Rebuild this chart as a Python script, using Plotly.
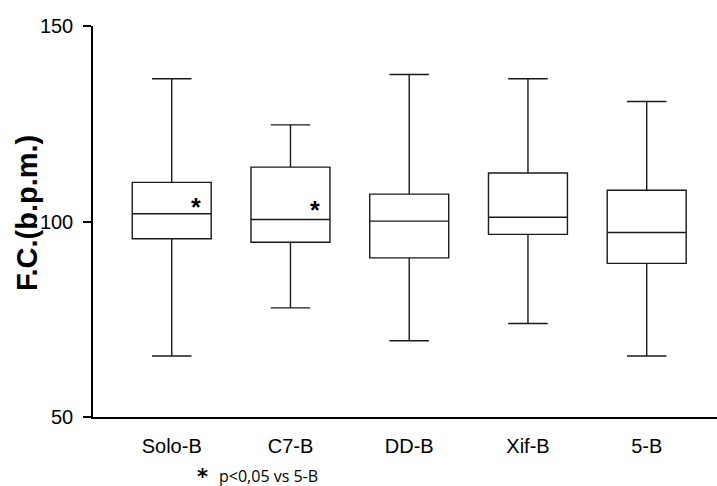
import plotly.graph_objects as go

categories = ["Solo-B", "C7-B", "DD-B", "Xif-B", "5-B"]
lower_whisker = [65.6, 77.9, 69.5, 73.9, 65.6]
q1_values = [95.6, 94.7, 90.7, 96.7, 89.3]
medians = [102.0, 100.5, 100.1, 101.1, 97.2]
q3_values = [110.0, 113.9, 107.0, 112.4, 108.0]
upper_whisker = [136.5, 124.7, 137.6, 136.5, 130.7]

# significance markers (category, y value)
sig_categories = ["Solo-B", "C7-B"]
sig_y = [103.6, 103.0]
footnote = "p&lt;0,05 vs 5-B"
y_title = "F.C.(b.p.m.)"
y_ticks = [50, 100, 150]

fig = go.Figure()
fig.add_trace(go.Box(
    x=categories,
    q1=q1_values, median=medians, q3=q3_values,
    lowerfence=lower_whisker, upperfence=upper_whisker,
    width=0.665, whiskerwidth=0.5,
    fillcolor="white",
    line=dict(color="#1a1a1a", width=1.4),
    boxpoints=False, showlegend=False, hoverinfo="skip",
))

for c, yv in zip(sig_categories, sig_y):
    fig.add_annotation(
        x=c, y=yv, xref="x", yref="y", text="<b>*</b>", showarrow=False,
        xshift=24.7, font=dict(family="Liberation Sans", size=25, color="black"),
    )

fig.add_annotation(
    x=0, y=0.5, xref="paper", yref="paper", text=f"<b>{y_title}</b>",
    textangle=-90, showarrow=False, xanchor="center", yanchor="middle",
    xshift=-65.8, yshift=8.7,
    font=dict(family="Liberation Sans", size=29, color="black"),
)

fig.add_annotation(
    x=0, y=0, xref="paper", yref="paper",
    text="<b>⁎</b>", showarrow=False, xanchor="center", yanchor="bottom",
    xshift=109.7, yshift=-68,
    font=dict(family="DejaVu Sans", size=21, color="black"),
)
fig.add_annotation(
    x=0, y=0, xref="paper", yref="paper",
    text=footnote, showarrow=False, xanchor="left", yanchor="middle",
    xshift=124, yshift=-59,
    font=dict(family="Open Sans", size=16, color="black"),
)

fig.update_layout(
    width=717, height=486,
    margin=dict(l=93, r=0, t=26, b=69),
    plot_bgcolor="white", paper_bgcolor="white",
    font=dict(family="Liberation Sans", color="black"),
)
fig.update_xaxes(
    type="category", range=[-0.663, 4.592],
    showline=True, linecolor="black", linewidth=1.5,
    ticks="", showgrid=False, zeroline=False,
    tickfont=dict(family="Liberation Sans", size=20, color="black"),
    ticklabelstandoff=10,
)
fig.update_yaxes(
    range=[50, 150], tickvals=y_ticks,
    showline=True, linecolor="black", linewidth=1.5,
    ticks="outside", ticklen=8, tickwidth=1.5, tickcolor="black",
    showgrid=False, zeroline=False,
    tickfont=dict(family="Liberation Sans", size=20, color="black"),
    ticklabelstandoff=6,
)

fig.write_html("out.html")
